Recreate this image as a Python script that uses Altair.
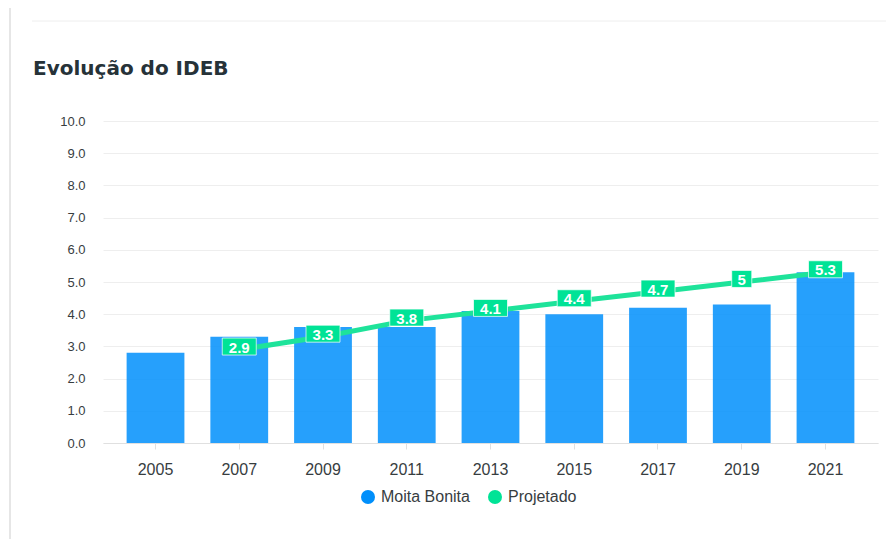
import altair as alt
import pandas as pd

anos = ["2005", "2007", "2009", "2011", "2013", "2015", "2017", "2019", "2021"]
moita = [2.8, 3.3, 3.6, 3.6, 4.1, 4.0, 4.2, 4.3, 5.3]
proj_anos = ["2007", "2009", "2011", "2013", "2015", "2017", "2019", "2021"]
proj = [2.9, 3.3, 3.8, 4.1, 4.4, 4.7, 5.0, 5.3]
proj_rotulos = ["2.9", "3.3", "3.8", "4.1", "4.4", "4.7", "5", "5.3"]
y_ticks = [0, 1, 2, 3, 4, 5, 6, 7, 8, 9, 10]
series = ["Moita Bonita", "Projetado"]
cores = ["#008FFB", "#00E396"]
titulo = "Evolução do IDEB"

df_bar = pd.DataFrame({"ano": anos, "valor": moita, "serie": series[0]})
df_proj = pd.DataFrame({"ano": proj_anos, "valor": proj, "serie": series[1], "rotulo": proj_rotulos})
df_one = pd.DataFrame({"titulo": [titulo]})

FONT = "Liberation Sans"
W, H = 775, 322

color = alt.Color(
    "serie:N",
    scale=alt.Scale(domain=series, range=cores),
    legend=alt.Legend(
        orient="none", legendX=257, legendY=368, direction="horizontal",
        title=None, symbolType="circle", symbolSize=196, symbolOpacity=1,
        symbolStrokeWidth=0, labelFontSize=16, labelColor="#373d3f",
        labelFont=FONT, labelOffset=5, columnPadding=17, padding=0,
    ),
)

x = alt.X(
    "ano:N", sort=anos,
    scale=alt.Scale(domain=anos, paddingInner=0.31, paddingOuter=0.282),
    axis=alt.Axis(title=None, labelAngle=0, labelFontSize=16, labelColor="#373d3f",
                  labelFont=FONT, tickSize=6, tickColor="#e0e0e0", domainColor="#e0e0e0",
                  labelPadding=12, grid=False),
)
y = alt.Y(
    "valor:Q", scale=alt.Scale(domain=[0, 10], nice=False),
    axis=alt.Axis(title=None, values=y_ticks, tickCount=11, format=".1f", labelFontSize=13,
                  labelColor="#373d3f", labelFont=FONT, ticks=False, domain=False,
                  labelOverlap=False, labelPadding=18, gridColor="#eeeeee", gridWidth=1),
)

bars = alt.Chart(df_bar).mark_bar(opacity=0.85).encode(x=x, y=y, color=color)

line = alt.Chart(df_proj).mark_line(color="#1ee39a", strokeWidth=5).encode(x=x, y=y)

wide = "M-1,-0.68L1,-0.68L1,0.32L-1,0.32Z"
narrow = "M-0.59,-0.68L0.59,-0.68L0.59,0.32L-0.59,0.32Z"
boxes = alt.Chart(df_proj).mark_point(
    filled=True, opacity=1, stroke="#ffffff", strokeWidth=1, strokeOpacity=0.7, size=1156
).encode(
    x=x, y=y, color=color,
    shape=alt.condition("length(datum.rotulo) <= 1", alt.value(narrow), alt.value(wide)),
)

texts = alt.Chart(df_proj).mark_text(
    color="white", fontWeight="bold", fontSize=15, font=FONT, baseline="middle", dy=-2
).encode(x=x, y=y, text="rotulo:N")

vline = alt.Chart(df_one).mark_rule(color="#e6e6e6", strokeWidth=2).encode(
    x=alt.value(-93), y=alt.value(-121), y2=alt.value(426)
)
hline = alt.Chart(df_one).mark_rule(color="#eeeeee", strokeWidth=1).encode(
    x=alt.value(-71), x2=alt.value(790), y=alt.value(-100)
)
title = alt.Chart(df_one).mark_text(
    align="left", baseline="alphabetic", fontSize=20, fontWeight="bold",
    font="DejaVu Sans", color="#263238"
).encode(x=alt.value(-70), y=alt.value(-46), text="titulo:N")

chart = alt.layer(vline, hline, title, bars, line, boxes, texts).properties(
    width=W, height=H,
    autosize=alt.AutoSizeParams(type="none"),
    padding={"left": 95, "top": 113, "right": 8, "bottom": 96},
).configure_view(stroke=None)

chart.save("out.html", embed_options={"renderer": "svg", "actions": False})
